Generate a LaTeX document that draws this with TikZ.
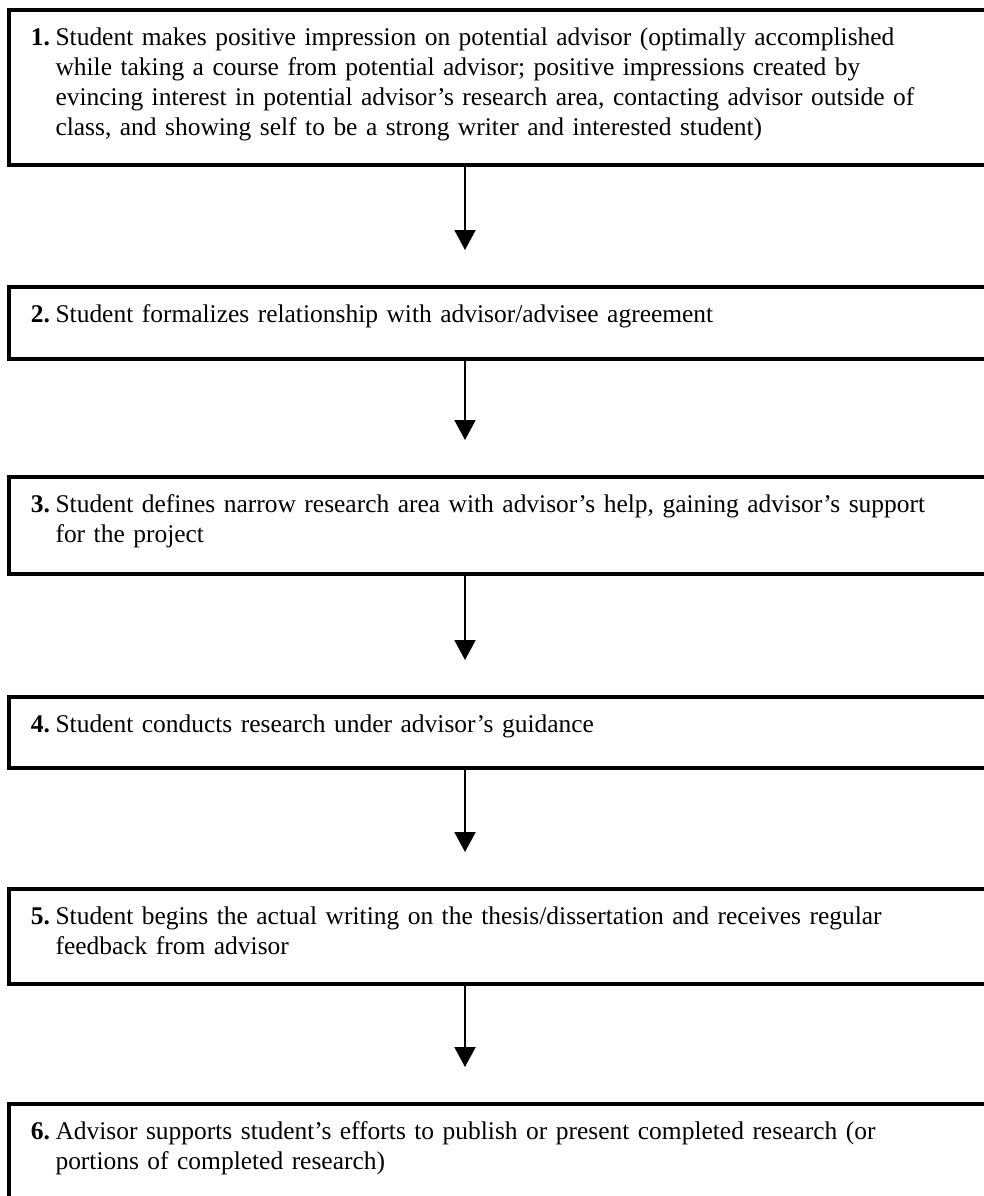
\documentclass[tikz,border=0pt]{standalone}
\usepackage{fontspec}
\setmainfont{Liberation Serif}
\usetikzlibrary{positioning,arrows.meta}
\tikzset{
    stepbox/.style={draw, line width=3pt, outer sep=0pt, anchor=north west,
        text width=710.25pt, inner xsep=16.5pt, inner ysep=0pt, align=left,
        text height=26.25pt, font=\fontsize{19.1}{22.7}\selectfont},
    flow/.style={line width=1.5pt, -{Triangle[width=15.75pt,length=15pt]}, shorten >=27.75pt}
}
\newcommand{\stepitem}[2]{\makebox[18.4pt][l]{\textbf{#1.}}\parbox[t]{680pt}{#2}}
\begin{document}
\begin{tikzpicture}[x=0.75pt, y=-0.75pt]
    \useasboundingbox (0,0) rectangle (983,1196);
    \coordinate (axis) at (465,0);
    \node[stepbox, text depth=90pt] (s1) at (9,10) {\stepitem{1}{Student makes positive impression on potential advisor (optimally accomplished\\
        while taking a course from potential advisor; positive impressions created by\\
        evincing interest in potential advisor’s research area, contacting advisor outside of\\
        class, and showing self to be a strong writer and interested student)}};
    \node[stepbox, text depth=27.75pt, below=91.5pt of s1] (s2) {\stepitem{2}{Student formalizes relationship with advisor/advisee agreement}};
    \node[stepbox, text depth=46.5pt, below=88.5pt of s2] (s3) {\stepitem{3}{Student defines narrow research area with advisor’s help, gaining advisor’s support\\
        for the project}};
    \node[stepbox, text depth=27pt, below=92.25pt of s3] (s4) {\stepitem{4}{Student conducts research under advisor’s guidance}};
    \node[stepbox, text depth=45pt, below=90.75pt of s4] (s5) {\stepitem{5}{Student begins the actual writing on the thesis/dissertation and receives regular\\
        feedback from advisor}};
    \node[stepbox, text depth=60pt, below=90pt of s5] (s6) {\stepitem{6}{Advisor supports student’s efforts to publish or present completed research (or\\
        portions of completed research)}};
    \draw[flow] (s1.south -| axis) -- (s2.north -| axis);
    \draw[flow] (s2.south -| axis) -- (s3.north -| axis);
    \draw[flow] (s3.south -| axis) -- (s4.north -| axis);
    \draw[flow] (s4.south -| axis) -- (s5.north -| axis);
    \draw[flow] (s5.south -| axis) -- (s6.north -| axis);
\end{tikzpicture}
\end{document}
